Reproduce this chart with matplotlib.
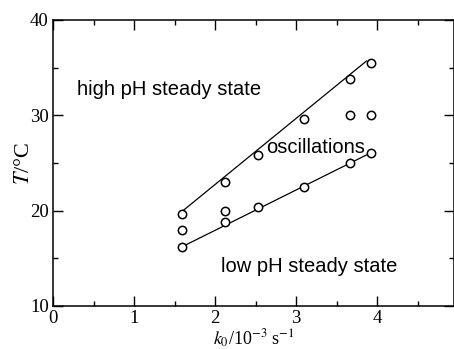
import matplotlib
matplotlib.use('Agg')
import matplotlib.pyplot as plt
from matplotlib.ticker import MultipleLocator

plt.rcParams['mathtext.fontset'] = 'stix'

# measured points
k0 = [1.59, 1.59, 1.59, 2.12, 2.12, 2.12, 2.53, 2.53, 3.10, 3.10,
      3.67, 3.67, 3.67, 3.93, 3.93, 3.93]
temp = [19.7, 18.0, 16.2, 23.0, 20.0, 18.85, 25.8, 20.4, 29.6, 22.5,
        33.8, 30.0, 25.0, 35.5, 30.0, 26.0]

# boundary lines
upper_k = [1.59, 3.87]
upper_t = [19.9, 35.7]
lower_k = [1.59, 3.93]
lower_t = [16.2, 26.1]

fig = plt.figure(figsize=(4.54, 3.49), dpi=100)
ax = fig.add_axes([53/454, 1 - 306/349, 1 - 53/454, (306 - 20)/349])

ax.plot(upper_k, upper_t, color='black', lw=0.9)
ax.plot(lower_k, lower_t, color='black', lw=0.9)
ax.plot(k0, temp, 'o', mfc='white', mec='black', ms=6, mew=1.1, zorder=3)

ax.set_xlim(0, 4.95)
ax.set_ylim(10, 40)
ax.xaxis.set_major_locator(MultipleLocator(1))
ax.xaxis.set_minor_locator(MultipleLocator(0.5))
ax.yaxis.set_major_locator(MultipleLocator(10))
ax.yaxis.set_minor_locator(MultipleLocator(5))
ax.tick_params(which='both', direction='in', top=True, right=True, width=1)
ax.tick_params(which='major', length=7)
ax.tick_params(which='minor', length=3.5)
ax.tick_params(axis='x', which='major', pad=3)
ax.tick_params(axis='y', which='major', pad=3)
for lab in ax.get_xticklabels() + ax.get_yticklabels():
    lab.set_fontfamily('Liberation Serif')
    lab.set_fontsize(13.5)
for sp in ax.spines.values():
    sp.set_linewidth(1.1)

ax.set_ylabel(r'$T$/°C', fontsize=16, family='Liberation Serif', labelpad=-3)
ax.set_xlabel(r'$k_0$/10$^{-3}$ s$^{-1}$', fontsize=13, family='Liberation Serif',
              labelpad=0)

ax.text(0.30, 32.7, 'high pH steady state', family='Liberation Sans', fontsize=14.5,
        va='center')
ax.text(2.63, 26.6, 'oscillations', family='Liberation Sans', fontsize=14.5, va='center')
ax.text(2.07, 14.1, 'low pH steady state', family='Liberation Sans', fontsize=14.5,
        va='center')

fig.savefig('out.png', dpi=100)
